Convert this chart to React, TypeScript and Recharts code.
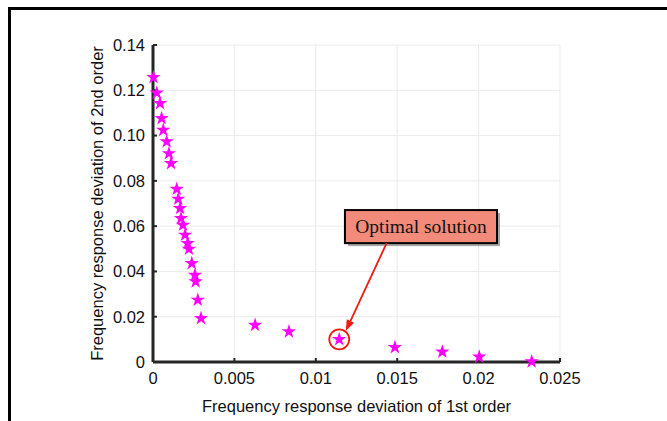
import {
  CartesianGrid,
  ReferenceArea,
  ReferenceDot,
  ReferenceLine,
  Scatter,
  ScatterChart,
  XAxis,
  YAxis,
  ZAxis
} from 'recharts'

// Pareto front: deviation of 1st order (x) vs 2nd order (y)
const devFirst = [
  0.00003, 0.00023, 0.00043, 0.00053, 0.00063, 0.00084, 0.00098, 0.00111,
  0.00146, 0.00155, 0.00166, 0.00172, 0.00184, 0.00197, 0.00213, 0.00221,
  0.00238, 0.00258, 0.00262, 0.00275, 0.00295,
  0.00627, 0.00835, 0.01144, 0.01486, 0.01777, 0.02004, 0.02326
]
const devSecond = [
  0.1257, 0.1189, 0.1142, 0.1076, 0.1024, 0.0973, 0.0921, 0.0877,
  0.0764, 0.072, 0.0679, 0.0634, 0.0605, 0.0561, 0.0524, 0.0499,
  0.0436, 0.0384, 0.0355, 0.0274, 0.0193,
  0.0163, 0.0134, 0.01, 0.0065, 0.0045, 0.0023, 0.0002
]
const xTicks = [0, 0.005, 0.01, 0.015, 0.02, 0.025]
const yTicks = [0, 0.02, 0.04, 0.06, 0.08, 0.1, 0.12, 0.14]
const optimalIndex = 23
const annotationText = 'Optimal solution'

const points = devFirst.map((x, i) => ({ x, y: devSecond[i] }))

const sansFont = '"Liberation Sans", Arial, sans-serif'
const axisColor = '#262626'
const fontSize = 16.5

function Arrow(props: any) {
  const { x1, y1, x2, y2 } = props
  const dx = x2 - x1
  const dy = y2 - y1
  const len = Math.sqrt(dx * dx + dy * dy)
  const ux = dx / len
  const uy = dy / len
  const headLen = 11
  const headW = 4
  const bx = x2 - ux * headLen
  const by = y2 - uy * headLen
  return (
    <g>
      <line x1={x1} y1={y1} x2={bx} y2={by} stroke="#f01a10" strokeWidth={1.8} />
      <polygon
        points={`${x2},${y2} ${bx - uy * headW},${by + ux * headW} ${bx + uy * headW},${by - ux * headW}`}
        fill="#f01a10"
      />
    </g>
  )
}

function AnnotationBox(props: any) {
  const { x, y, width, height } = props
  return (
    <g>
      <rect x={x + 3} y={y + 3} width={width} height={height} fill="#000" opacity={0.35} />
      <rect x={x} y={y} width={width} height={height} fill="#f28b7a" stroke="#000" strokeWidth={2} />
      <text
        x={x + width / 2}
        y={y + height / 2 + 6}
        textAnchor="middle"
        fontFamily='"Liberation Serif", "Times New Roman", serif'
        fontSize={19.5}
        fill="#111"
      >
        {annotationText}
      </text>
    </g>
  )
}

export default function App() {
  const opt = points[optimalIndex]
  return (
    <div style={{ position: 'absolute', left: 0, top: 0, width: 667, height: 421, overflow: 'hidden', background: '#fff' }}>
      <div
        style={{
          position: 'absolute',
          left: 8,
          top: 7,
          width: 659,
          height: 414,
          boxSizing: 'border-box',
          borderTop: '3px solid #000',
          borderLeft: '3px solid #000'
        }}
      />
      <div style={{ position: 'absolute', left: 0, top: 0, fontFamily: sansFont }}>
        <ScatterChart width={667} height={421} margin={{ top: 45, right: 107, bottom: 0, left: 0 }}>
          <CartesianGrid stroke="#ebebeb" />
          <XAxis
            type="number"
            dataKey="x"
            domain={[0, 0.025]}
            ticks={xTicks}
            interval={0}
            height={59}
            tickSize={-4}
            tickMargin={14}
            axisLine={{ stroke: axisColor, strokeWidth: 3 }}
            tickLine={{ stroke: axisColor, strokeWidth: 2 }}
            tick={{ fill: '#111', fontSize, fontFamily: sansFont }}
            tickFormatter={(v: number) => String(v)}
            label={{
              value: 'Frequency response deviation of 1st order',
              position: 'insideBottom',
              offset: 9,
              fill: '#111',
              fontSize,
              fontFamily: sansFont
            }}
          />
          <YAxis
            type="number"
            dataKey="y"
            domain={[0, 0.14]}
            ticks={yTicks}
            interval={0}
            width={153}
            tickSize={-4}
            tickMargin={12}
            axisLine={{ stroke: axisColor, strokeWidth: 3 }}
            tickLine={{ stroke: axisColor, strokeWidth: 2 }}
            tick={{ fill: '#111', fontSize, fontFamily: sansFont }}
            tickFormatter={(v: number) => (v === 0 ? '0' : v.toFixed(2))}
            label={{
              content: ({ viewBox }: any) => {
                const cy = viewBox.y + viewBox.height / 2
                return (
                  <text
                    x={103}
                    y={cy}
                    transform={`rotate(-90, 103, ${cy})`}
                    textAnchor="middle"
                    fill="#111"
                    fontSize={fontSize}
                    fontFamily={sansFont}
                  >
                    Frequency response deviation of 2nd order
                  </text>
                )
              }
            }}
          />
          <ZAxis range={[50, 50]} />
          <Scatter data={points} shape="star" fill="#ff00ff" isAnimationActive={false} />
          <ReferenceDot x={opt.x} y={opt.y} r={10} fill="none" stroke="#f01a10" strokeWidth={1.8} />
          <ReferenceLine
            segment={[
              { x: 0.01435, y: 0.0525 },
              { x: 0.01184, y: 0.0137 }
            ]}
            shape={Arrow}
          />
          <ReferenceArea x1={0.01179} x2={0.02113} y1={0.0525} y2={0.0671} shape={AnnotationBox} />
        </ScatterChart>
      </div>
    </div>
  )
}
